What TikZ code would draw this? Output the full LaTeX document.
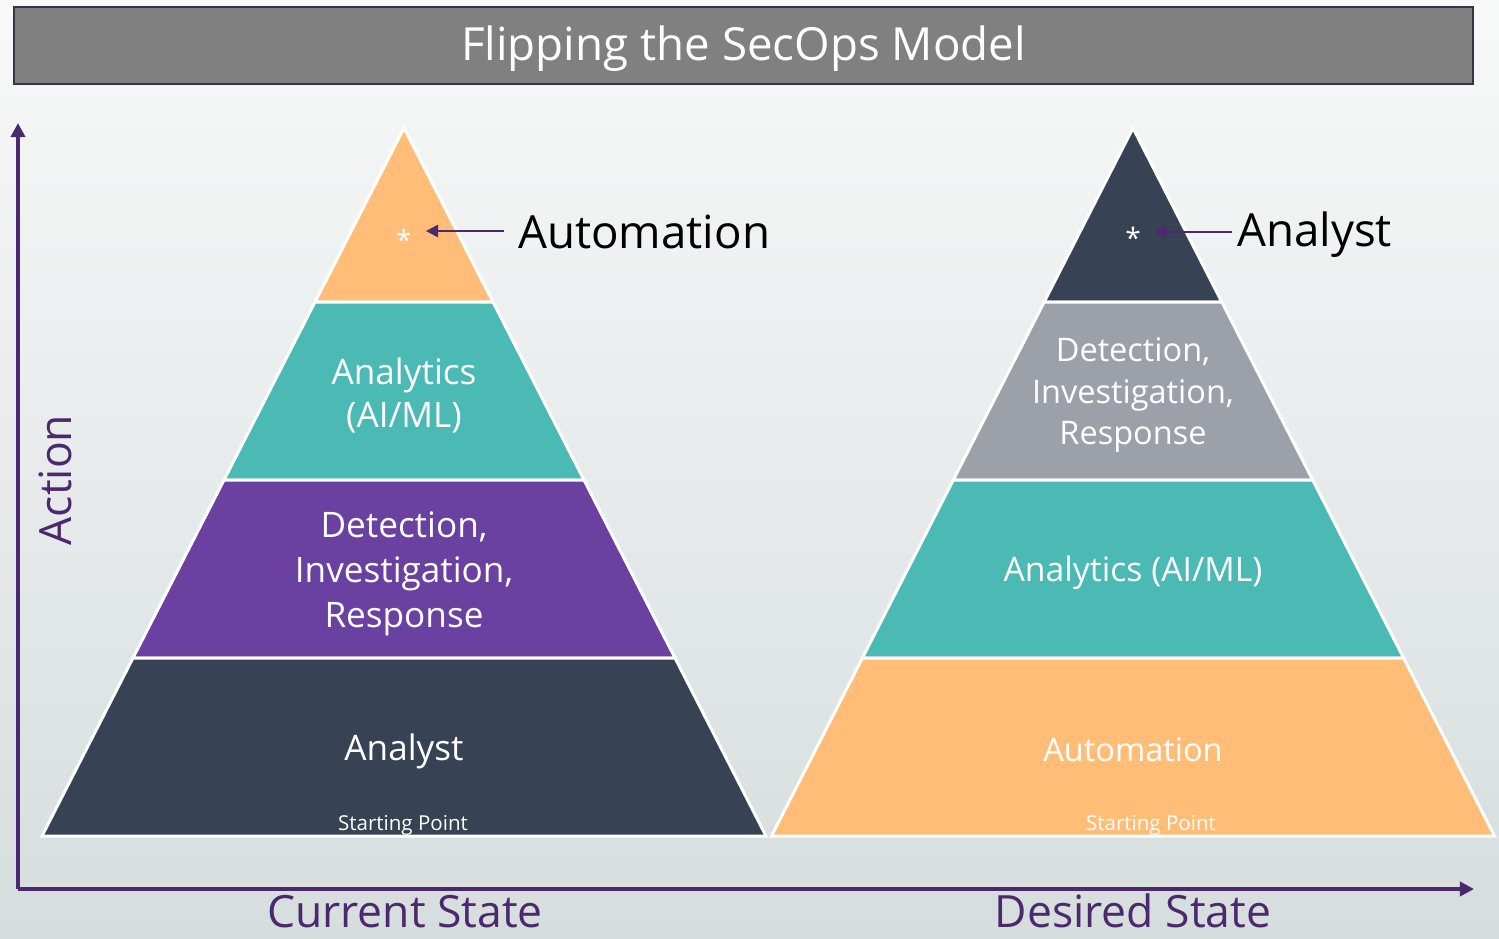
\documentclass[tikz,border=0pt]{standalone}
\usepackage{fontspec}
\setmainfont{Open Sans}
\usetikzlibrary{arrows.meta}
\definecolor{bgtop}{RGB}{248,249,249}
\definecolor{bgbot}{RGB}{214,221,221}
\definecolor{titlegray}{RGB}{128,128,128}
\definecolor{titleedge}{RGB}{58,48,72}
\definecolor{axispurple}{RGB}{76,41,110}
\definecolor{torange}{RGB}{255,189,119}
\definecolor{tteal}{RGB}{75,185,180}
\definecolor{tpurple}{RGB}{106,64,160}
\definecolor{tnavy}{RGB}{55,67,84}
\definecolor{tgray}{RGB}{156,160,168}
\tikzset{
  tier/.style={draw=white, line width=1.7pt, line join=miter},
  tiertext/.style={text=white, align=center, font=\fontsize{20}{25.5}\selectfont},
  tiertextr/.style={text=white, align=center, font=\fontsize{18.5}{23.5}\selectfont},
  small/.style={text=white, font=\fontsize{11.7}{13}\selectfont},
  axis/.style={draw=axispurple, line width=2.3pt, -{Triangle[length=8pt,width=8pt]}},
  axislabel/.style={text=axispurple, font=\fontsize{25.3}{30}\selectfont, anchor=base, inner sep=0pt},
  callout/.style={text=black, font=\fontsize{26}{30}\selectfont, anchor=base west},
  pointer/.style={draw=axispurple, line width=1.3pt, -{Triangle[length=7pt,width=7pt]}},
  star/.style={text=white, font=\fontsize{16}{18}\selectfont}
}
\begin{document}
\begin{tikzpicture}[x=0.02cm,y=-0.02cm]
\useasboundingbox (0,0) rectangle (1499,938);
\shade[top color=bgtop, bottom color=bgbot] (0,0) rectangle (1499,938);
% title
\node[draw=titleedge, line width=1.2pt, fill=titlegray, minimum width=1459*0.02cm, minimum height=77*0.02cm, inner sep=0pt] (titlebar) at (743.5,45.5) {};
\node[text=white, font=\fontsize{26}{30}\selectfont] (title) at (743.5,49) {Flipping the SecOps Model};
% axes
\coordinate (origin) at (18,889);
\coordinate (ytop) at (18,123);
\coordinate (xend) at (1474,889);
\draw[axis] (origin) -- (ytop);
\draw[axis] (origin) -- (xend);
\node[text=axispurple, font=\fontsize{25.3}{30}\selectfont, rotate=90] (action) at (55,480) {Action};
\node[axislabel] (current) at (405,927) {Current State};
\node[axislabel] (desired) at (1133,927) {Desired State};
% left pyramid
\fill[tier, fill=torange] (404,128) -- (493,302) -- (315,302) -- cycle;
\fill[tier, fill=tteal] (315,302) -- (493,302) -- (584,480) -- (224,480) -- cycle;
\fill[tier, fill=tpurple] (224,480) -- (584,480) -- (675,658) -- (133,658) -- cycle;
\fill[tier, fill=tnavy] (133,658) -- (675,658) -- (766,836) -- (42,836) -- cycle;
\node[star] (lstar) at (404,240) {*};
\node[tiertext, font=\fontsize{20}{24.5}\selectfont] (lanalytics) at (404,395) {Analytics\\(AI/ML)};
\node[tiertext] (ldet) at (404,574) {Detection,\\Investigation,\\Response};
\node[tiertext] (lanalyst) at (404,751) {Analyst};
\node[small] (lstart) at (403,825) {Starting Point};
\node[callout] (lauto) at (512,248) {Automation};
\coordinate (lfrom) at ([xshift=-8*0.02cm]lauto.west |- 0,231);
\draw[pointer, shorten >=4.5pt] (lfrom) -- (lstar.east |- lfrom);
% right pyramid
\fill[tier, fill=tnavy] (1133,128) -- (1221.8,302) -- (1044.2,302) -- cycle;
\fill[tier, fill=tgray] (1044.2,302) -- (1221.8,302) -- (1312.7,480) -- (953.3,480) -- cycle;
\fill[tier, fill=tteal] (953.3,480) -- (1312.7,480) -- (1403.6,658) -- (862.4,658) -- cycle;
\fill[tier, fill=torange] (862.4,658) -- (1403.6,658) -- (1494.5,836) -- (771.5,836) -- cycle;
\node[star] (rstar) at (1133,238) {*};
\node[tiertextr] (rdet) at (1133,395) {Detection,\\Investigation,\\Response};
\node[tiertextr, font=\fontsize{19.2}{23}\selectfont] (ranalytics) at (1133,573) {Analytics (AI/ML)};
\node[tiertextr] (rauto) at (1133,750) {Automation};
\node[small] (rstart) at (1151,825) {Starting Point};
\node[callout] (ranalyst) at (1231,246) {Analyst};
\coordinate (rfrom) at ([xshift=1*0.02cm]ranalyst.west |- 0,232);
\draw[pointer, shorten >=4pt] (rfrom) -- (rstar.east |- rfrom);
\end{tikzpicture}
\end{document}
